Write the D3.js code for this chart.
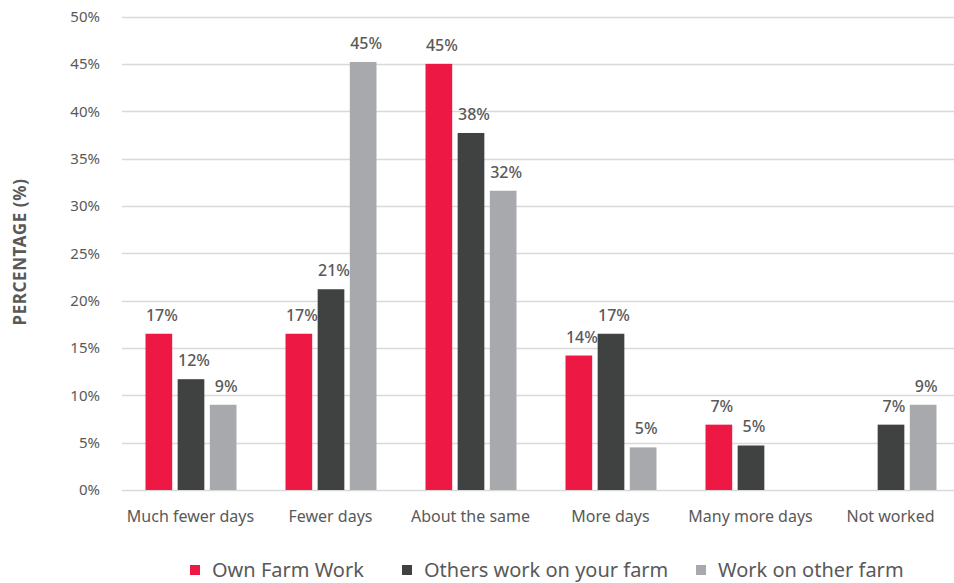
<!DOCTYPE html>
<html>
<head>
<meta charset="utf-8">
<script src="https://cdn.jsdelivr.net/npm/d3@7"></script>
<style>
  body { margin: 0; background: #fff; overflow: hidden; }
  svg text { font-family: "Noto Sans", "Open Sans", sans-serif; fill: #595959; }
</style>
</head>
<body>
<div id="container"></div>
<script>
// chart data
const categories = ["Much fewer days", "Fewer days", "About the same", "More days", "Many more days", "Not worked"];
const seriesNames = ["Own Farm Work", "Others work on your farm", "Work on other farm"];
const ownFarm = [16.5, 16.5, 45.0, 14.2, 6.9, null];
const othersOnFarm = [11.7, 21.2, 37.7, 16.5, 4.7, 6.9];
const otherFarm = [9.0, 45.2, 31.6, 4.5, null, 9.0];
const yTicks = [0, 5, 10, 15, 20, 25, 30, 35, 40, 45, 50];

const colors = ["#ee1844", "#404241", "#a8a9ad"];
const series = [ownFarm, othersOnFarm, otherFarm];

const width = 954, height = 583;
const plotLeft = 120.5, plotRight = 960.5, plotTop = 16.5, plotBottom = 490;

const svg = d3.select("#container").append("svg")
    .attr("width", width)
    .attr("height", height);

const x0 = d3.scaleBand().domain(categories).range([plotLeft, plotRight]);
const x1 = d3.scaleBand().domain(d3.range(3)).range([-45, 46]).paddingInner(0.17);
const y = d3.scaleLinear().domain([0, 50]).range([plotBottom, plotTop]);

// gridlines
svg.append("g")
  .selectAll("line")
  .data(yTicks)
  .join("line")
    .attr("x1", 122).attr("x2", width)
    .attr("y1", d => Math.round(y(d)) + 0.5)
    .attr("y2", d => Math.round(y(d)) + 0.5)
    .attr("stroke", "#d9d9d9")
    .attr("stroke-width", 1.3);

// y axis labels
const yaxis = d3.axisLeft(y).tickValues(yTicks).tickFormat(d => d + "%").tickSize(0).tickPadding(0);
svg.append("g")
    .attr("transform", "translate(100,0)")
    .call(yaxis)
    .call(g => g.select(".domain").remove())
    .selectAll("text")
    .style("font-size", "15px")
    .style("font-family", "'Noto Sans', sans-serif")
    .attr("fill", "#595959");

svg.append("text")
    .attr("transform", "translate(26," + 252 + ") rotate(-90)")
    .attr("text-anchor", "middle")
    .style("font-size", "17px")
    .style("font-weight", "bold")
    .style("letter-spacing", "0.6px")
    .text("PERCENTAGE (%)");

// bars
series.forEach((vals, s) => {
  const g = svg.append("g");
  categories.forEach((c, i) => {
    const v = vals[i];
    if (v == null) return;
    const bx = x0(c) + x0.bandwidth() / 2 + x1(s);
    g.append("rect")
      .attr("x", bx)
      .attr("y", y(v))
      .attr("width", x1.bandwidth())
      .attr("height", y(0) - y(v))
      .attr("fill", colors[s]);
    g.append("text")
      .attr("x", bx + x1.bandwidth() / 2 + 3)
      .attr("y", y(v) - 13)
      .attr("text-anchor", "middle")
      .style("font-size", "16px")
      .style("font-weight", "500")
      .text(Math.round(v) + "%");
  });
});

// category labels
const xaxis = d3.axisBottom(x0).tickSize(0).tickPadding(0);
svg.append("g")
    .attr("transform", "translate(0," + (plotBottom + 21) + ")")
    .call(xaxis)
    .call(g => g.select(".domain").remove())
    .selectAll("text")
    .attr("dy", "0.71em")
    .style("font-size", "16px")
    .style("font-family", "'Noto Sans', sans-serif")
    .attr("fill", "#595959");

// legend
const legendX = [190, 402, 696];
const legend = svg.append("g");
seriesNames.forEach((name, i) => {
  legend.append("rect")
    .attr("x", legendX[i]).attr("y", 565)
    .attr("width", 10).attr("height", 10)
    .attr("fill", colors[i]);
  legend.append("text")
    .attr("x", legendX[i] + 22).attr("y", 570)
    .attr("dy", "0.35em")
    .style("font-size", "20px")
    .text(name);
});
</script>
</body>
</html>
